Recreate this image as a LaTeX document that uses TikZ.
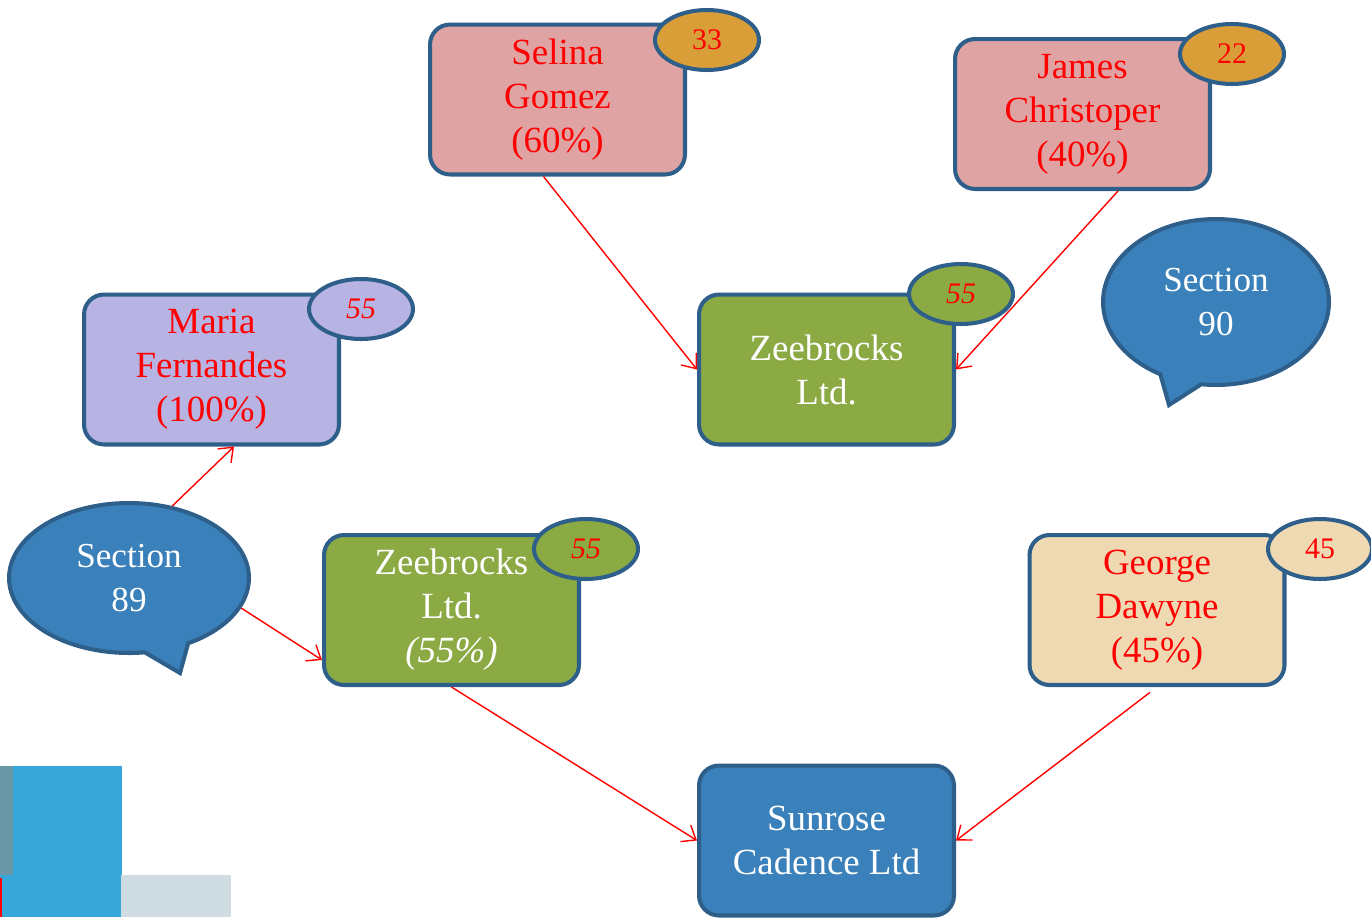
\documentclass[tikz,border=0pt]{standalone}
\usepackage{fontspec}
\setmainfont{Liberation Serif}
\usetikzlibrary{shapes.geometric,shapes.callouts,arrows.meta}

\definecolor{edgeblue}{RGB}{46,95,138}
\definecolor{rosefill}{RGB}{224,163,164}
\definecolor{orangefill}{RGB}{217,158,56}
\definecolor{lavfill}{RGB}{183,179,226}
\definecolor{greenfill}{RGB}{139,170,68}
\definecolor{beigefill}{RGB}{239,217,178}
\definecolor{bluefill}{RGB}{58,128,186}
\definecolor{decoslate}{RGB}{107,152,168}
\definecolor{decosky}{RGB}{56,168,219}
\definecolor{decomist}{RGB}{207,220,226}

\begin{document}
\begin{tikzpicture}[x=0.02cm,y=-0.02cm]
    \tikzstyle{owner}=[rectangle,rounded corners=0.4cm,draw=edgeblue,line width=2.3pt,minimum width=5.1cm,minimum height=3cm,align=center,text=red,font=\fontsize{21}{25}\selectfont]
    \tikzstyle{badge}=[ellipse,draw=edgeblue,line width=2.3pt,minimum width=2.08cm,minimum height=1.2cm,inner sep=0pt,text=red,font=\fontsize{17}{20}\selectfont]
    \tikzstyle{bubble}=[ellipse callout,draw=edgeblue,fill=bluefill,line width=2.3pt,align=center,text=white,callout pointer arc=22,font=\fontsize{20}{25}\selectfont]
    \tikzstyle{link}=[red,line width=0.8pt,-{Straight Barb[length=7pt,width=11pt]}]

    \useasboundingbox (0,0) rectangle (1371,917);

    % corner blocks
    \fill[decosky] (0,766) rectangle (122,917);
    \fill[decoslate] (0,766) rectangle (13,875);
    \fill[decomist] (121,875) rectangle (231,917);
    \draw[red,line width=1pt] (1,878) -- (1,917);

    % owners and companies
    \node[owner,fill=rosefill] (selina) at (557.5,99.5) {Selina\\Gomez\\(60\%)};
    \node[owner,fill=rosefill] (james) at (1082.5,114) {James\\Christoper\\(40\%)};
    \node[owner,fill=lavfill] (maria) at (211.5,369.5) {Maria\\Fernandes\\(100\%)};
    \node[owner,fill=greenfill,text=white] (zee-1) at (826.5,369.5) {Zeebrocks\\Ltd.};
    \node[owner,fill=greenfill,text=white] (zee-2) at (451.5,610) {Zeebrocks\\Ltd.\\\textit{(55\%)}};
    \node[owner,fill=beigefill] (george) at (1157,610) {George\\Dawyne\\(45\%)};
    \node[owner,fill=bluefill,text=white] (sunrose) at (826.5,840.5) {Sunrose\\Cadence Ltd};

    % counts
    \foreach \num/\x/\y/\col/\val in {selina/707/40/orangefill/33, james/1232/54/orangefill/22,
        maria/361/309/lavfill/\textit{55}, zee-1/961/294/greenfill/\textit{55},
        zee-2/586/549/greenfill/\textit{55}, george/1320/549/beigefill/45}
        \node[badge,fill=\col] (B-\num) at (\x,\y) {\val};

    % sections
    \node[bubble,minimum width=4.8cm,minimum height=3cm,callout absolute pointer={(180,673)}] (sec-89) at (129,578) {Section\\89};
    \node[bubble,minimum width=4.52cm,minimum height=3.32cm,callout absolute pointer={(1169,405)}] (sec-90) at (1216,302) {Section\\90};

    \draw[link] ([xshift=-0.28cm]selina.south) -- (zee-1.west);
    \draw[link] ([xshift=0.71cm]james.south) -- (zee-1.east);
    \draw[link] (sec-89.59) -- ([xshift=0.45cm]maria.south);
    \draw[link] (sec-89.-15) -- ([yshift=-1cm]zee-2.west);
    \draw[link] (zee-2.south) -- (sunrose.west);
    \draw[link,shorten <=5pt] (george.south) -- (sunrose.east);
\end{tikzpicture}
\end{document}
